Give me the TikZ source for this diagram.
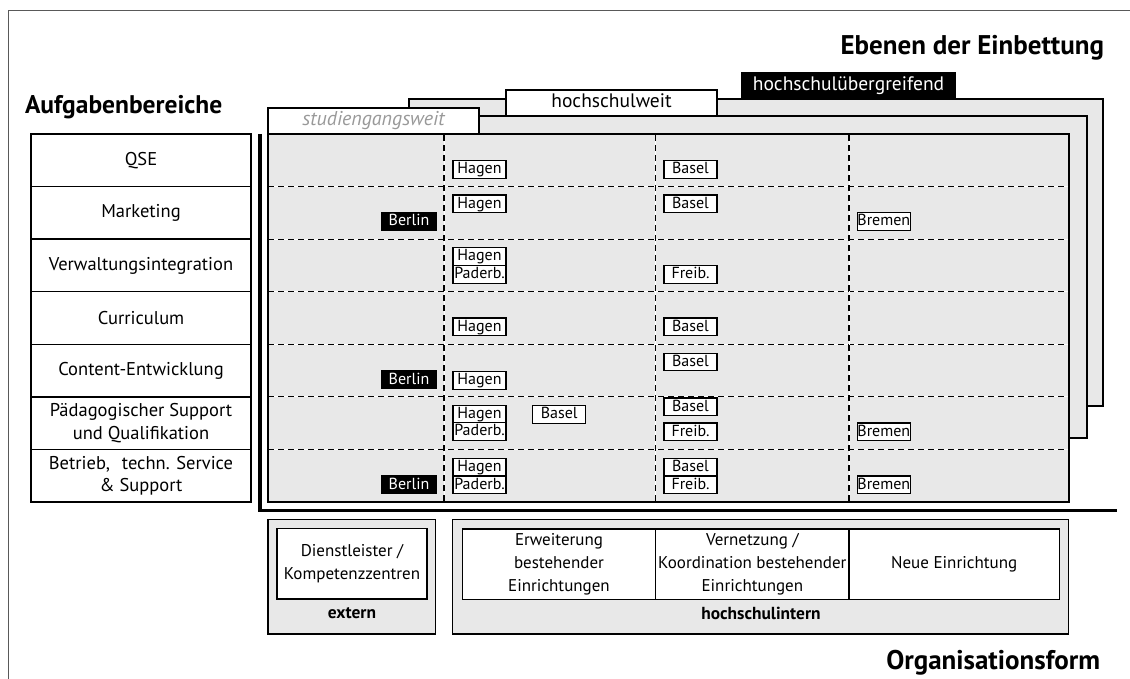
\documentclass[tikz,border=0pt]{standalone}
\usepackage{fontspec}
\setmainfont{PT Sans}
\definecolor{panelgray}{gray}{0.91}
\definecolor{framegray}{gray}{0.35}
\definecolor{tabtext}{gray}{0.6}
\begin{document}
\begin{tikzpicture}[x=1pt,y=-1pt,
  every node/.style={inner sep=0pt, outer sep=0pt},
  panelbox/.style={draw=black, fill=panelgray, line width=1.4pt},
  tabbox/.style={draw=black, line width=1.4pt, anchor=north west, minimum height=26pt, text height=13.5pt, text depth=4pt, font=\fontsize{19.5}{22}\selectfont},
  areabox/.style={draw=black, fill=white, line width=1.4pt, anchor=north west, minimum width=220pt, minimum height=52.57pt, align=center, font=\fontsize{18.5}{22.7}\selectfont},
  orgbox/.style={draw=black, fill=white, line width=1.4pt, anchor=north west, minimum height=70.3pt, align=center, font=\fontsize{17}{22.7}\selectfont},
  tagbox/.style={draw=black, fill=white, line width=1.1pt, anchor=north west, minimum width=53pt, minimum height=17.6pt, text height=11.5pt, text depth=3pt, font=\fontsize{16}{18}\selectfont},
  blacktag/.style={tagbox, fill=black, text=white, minimum width=54pt},
  gridline/.style={dash pattern=on 6pt off 4pt, line width=1.1pt},
  heading/.style={font=\fontsize{27}{30}\selectfont\bfseries},
  boldlabel/.style={font=\fontsize{17.4}{20}\selectfont\bfseries}
]
\useasboundingbox (0,0) rectangle (1130,679);
% outer frame
\draw[framegray, line width=1pt] (8,679) -- (8,11) -- (1130,11);
% headings
\node[heading, anchor=base east] (ebenen) at (1104,55) {Ebenen der Einbettung};
\node[heading, anchor=base west, font=\fontsize{25.5}{30}\selectfont\bfseries] (aufg) at (25,114) {Aufgabenbereiche};
\node[heading, anchor=base east] (orgform) at (1100,669) {Organisationsform};
% back panel: hochschuluebergreifend
\draw[panelbox] (409,99) rectangle (1103,406);
\node[tabbox, fill=black, text=white, minimum width=213pt] (tabhu) at (742,73) {hochschulübergreifend};
% middle panel: hochschulweit
\draw[panelbox] (340,116) rectangle (1087,438);
\node[tabbox, fill=white, minimum width=211pt] (tabhw) at (506,90) {hochschulweit};
% front panel: studiengangsweit
\draw[panelbox] (268,134) rectangle (1069,502);
\node[tabbox, fill=white, text=tabtext, minimum width=211pt, font=\fontsize{20}{22}\selectfont\itshape] (tabsg) at (268,108) {studiengangsweit};
% grid
\foreach \r in {1,...,6}{
  \draw[white, line width=0.8pt] (268,134+\r*52.57) -- (1069,134+\r*52.57);
  \draw[gridline] (268,134+\r*52.57) -- (1069,134+\r*52.57);
}
\foreach \c in {444,655.5,849}{
  \draw[white, line width=0.8pt] (\c,135) -- (\c,501);
  \draw[gridline] (\c,135) -- (\c,501);
}
% thick axis
\draw[line width=3.5pt] (260,134) -- (260,510.5) -- (1117,510.5);
% task areas
\node[areabox] (qse) at (31,134) {QSE};
\node[areabox] (mark) at (31,186.57) {Marketing};
\node[areabox] (verw) at (31,239.14) {Verwaltungsintegration};
\node[areabox] (curr) at (31,291.71) {Curriculum};
\node[areabox] (cont) at (31,344.28) {Content-Entwicklung};
\node[areabox] (paed) at (31,396.85) {Pädagogischer Support\\und Qualifikation};
\node[areabox] (betr) at (31,449.42) {Betrieb,\hspace{12pt}techn. Service\\\& Support};
% tags row 1
\node[tagbox] (h1) at (453,160.7) {Hagen};
\node[tagbox] (b1) at (664,160.7) {Basel};
% row 2
\node[blacktag] (be2) at (382,212.5) {Berlin};
\node[tagbox] (h2) at (453,195) {Hagen};
\node[tagbox] (b2) at (664,195) {Basel};
\node[tagbox] (br2) at (857.3,212.7) {Bremen};
% row 3
\node[tagbox] (h3) at (453,247.5) {Hagen};
\node[tagbox] (p3) at (453,265.5) {Paderb.};
\node[tagbox] (f3) at (664,265.5) {Freib.};
% row 4
\node[tagbox] (h4) at (453,318) {Hagen};
\node[tagbox] (b4) at (664,318) {Basel};
% row 5
\node[blacktag] (be5) at (382,371) {Berlin};
\node[tagbox] (h5) at (453,371.5) {Hagen};
\node[tagbox] (b5) at (664,353.3) {Basel};
% row 6
\node[tagbox] (h6) at (453,405.5) {Hagen};
\node[tagbox] (p6) at (453,422.8) {Paderb.};
\node[tagbox] (bx6) at (532.7,405.5) {Basel};
\node[tagbox] (b6) at (664,398) {Basel};
\node[tagbox] (f6) at (664,423) {Freib.};
\node[tagbox] (br6) at (857.3,423) {Bremen};
% row 7
\node[blacktag] (be7) at (382,476) {Berlin};
\node[tagbox] (h7) at (453,458.3) {Hagen};
\node[tagbox] (p7) at (453,476) {Paderb.};
\node[tagbox] (b7) at (664,458.3) {Basel};
\node[tagbox] (f7) at (664,476) {Freib.};
\node[tagbox] (br7) at (857.3,476) {Bremen};
% organisation forms
\draw[panelbox] (268,519.5) rectangle (435.7,634);
\node[orgbox, minimum width=150pt] (dienst) at (277,528.7) {Dienstleister /\\Kompetenzzentren};
\node[boldlabel] (extern) at (352,613) {extern};
\draw[panelbox] (452.7,519.5) rectangle (1068.7,634);
\node[orgbox, minimum width=193.4pt] (erw) at (462.3,529) {Erweiterung\\bestehender\\Einrichtungen};
\node[orgbox, minimum width=193.3pt] (vern) at (655.7,529) {Vernetzung /\\Koordination bestehender\\Einrichtungen};
\node[orgbox, minimum width=210.3pt] (neu) at (849,529) {Neue Einrichtung};
\node[boldlabel] (intern) at (761,613) {hochschulintern};
\end{tikzpicture}
\end{document}
